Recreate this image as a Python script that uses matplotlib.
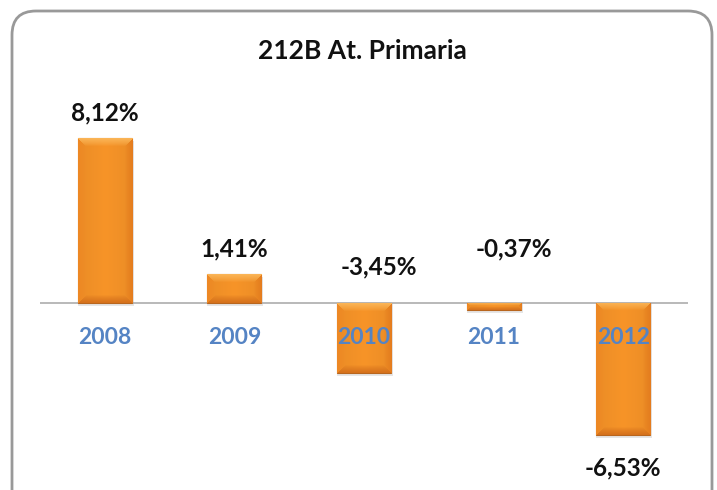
import numpy as np
import matplotlib
matplotlib.use("Agg")
import matplotlib.pyplot as plt
from matplotlib.patches import FancyBboxPatch
from matplotlib.transforms import IdentityTransform

# ---- data ----
title = "212B At. Primaria"
categories = ["2008", "2009", "2010", "2011", "2012"]
values = [8.12, 1.41, -3.45, -0.37, -6.53]
value_labels = ["8,12%", "1,41%", "-3,45%", "-0,37%", "-6,53%"]

# ---- style ----
label_anchor = ["value", "value", "zero", "zero", "value"]
label_dx_px = [0, 0, 15, 20, 0]
label_dy_px = [18, 17.5, 28, 46, -40.5]
FONT = ["Lato", "DejaVu Sans"]
BLUE = "#5584C4"

W, H, DPI = 717, 490, 100
fig = plt.figure(figsize=(W / DPI, H / DPI), dpi=DPI)
fig.patch.set_facecolor("white")

# rounded border (display pixel coords)
border = FancyBboxPatch((12, -40), 700, 479 + 40,
                        boxstyle="round,pad=0,rounding_size=24",
                        transform=IdentityTransform(), facecolor="none",
                        edgecolor="#999999", linewidth=2.0, zorder=-1)
fig.patches.append(border)

ax_left, ax_right = 40 / W, 688 / W
ax_top_px, ax_bot_px = 100, 465
ax = fig.add_axes([ax_left, (H - ax_bot_px) / H, ax_right - ax_left, (ax_bot_px - ax_top_px) / H])
ax.set_facecolor("none")
ymin, ymax = -8, 10
x = np.arange(len(categories))
bw = 0.417

bars = ax.bar(x, values, width=bw, color="#F5922B", edgecolor="#B8661E", linewidth=0.8, zorder=3)

px_per_unit = (ax_bot_px - ax_top_px) / (ymax - ymin)
px_per_x = (688 - 40) / len(categories)

# soft bevel/gradient overlay
core = np.array([247, 148, 40]) / 255
top_c = np.array([251, 182, 88]) / 255
left_c = np.array([238, 136, 36]) / 255
right_c = np.array([228, 124, 30]) / 255
bot_c = np.array([212, 112, 28]) / 255
for b, v in zip(bars, values):
    wpx = int(round(bw * px_per_x))
    hpx = max(int(round(abs(v) * px_per_unit)), 2)
    yy, xx = np.mgrid[0:hpx, 0:wpx].astype(float)
    dl, dr = xx + 0.5, wpx - 0.5 - xx
    dt, db = yy + 0.5, hpx - 0.5 - yy
    bev = min(8.0, hpx / 2.2)
    t = 1 - np.abs((xx + 0.5) / wpx - 0.5) * 2
    img = np.ones((hpx, wpx, 3)) * core
    img = img * (0.95 + 0.05 * t[..., None])
    stack = np.stack([dt, dl, dr, db])
    which = np.argmin(stack, axis=0)
    dmin = np.min(stack, axis=0)
    wgt = np.clip(1 - dmin / bev, 0, 1) ** 0.8
    cols = [top_c, left_c, right_c, bot_c]
    for k in range(4):
        m = which == k
        img[m] = img[m] + (cols[k] - img[m]) * wgt[m][:, None]
    img = np.clip(img, 0, 1)
    x0 = b.get_x()
    x1 = x0 + b.get_width()
    ytop = max(0, v)
    ybot = min(0, v)
    im = ax.imshow(img, extent=(x0, x1, ybot, ytop), origin="upper", aspect="auto",
                   interpolation="bilinear", zorder=3.5)
    im.set_clip_path(b)
    # subtle drop shadow
    sh = 0.15
    ax.bar(b.get_x() + b.get_width() / 2 + 0.008, v - sh if v < 0 else v,
           width=bw + 0.016, bottom=0 if v < 0 else -sh,
           color="#d6d6d6", alpha=0.6, zorder=2, linewidth=0)

ax.axhline(0, color="#A6A6A6", linewidth=1.1, zorder=2.5)

ax.set_xlim(-0.5, len(categories) - 0.5)
ax.set_ylim(ymin, ymax)
ax.axis("off")

# data labels
for i, (v, lab) in enumerate(zip(values, value_labels)):
    ay = v if label_anchor[i] == "value" else 0
    ax.annotate(lab, (x[i], ay), xytext=(label_dx_px[i], label_dy_px[i]),
                textcoords="offset pixels", ha="center", va="baseline",
                fontsize=17.5, fontweight="bold", family=FONT, color="#111111", zorder=6)

# category labels
for i, c in enumerate(categories):
    ax.annotate(c, (x[i], 0), xytext=(0, -41), textcoords="offset pixels",
                ha="center", va="baseline", fontsize=16.5, fontweight="bold",
                family=FONT, color=BLUE, zorder=6)

fig.text(362 / W, (H - 59) / H, title, ha="center", va="baseline", fontsize=19,
         fontweight="bold", family=FONT, color="#111111")

fig.savefig("out.png", dpi=DPI)
